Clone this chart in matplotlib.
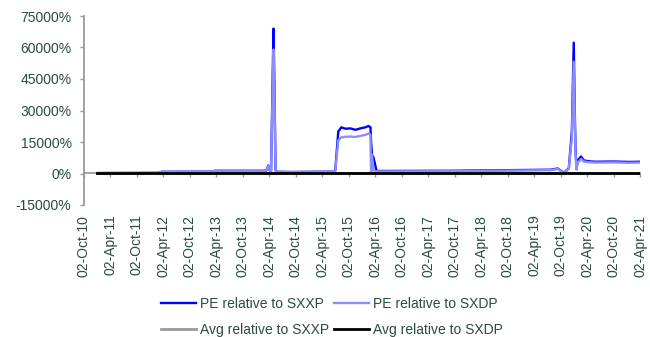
import numpy as np
import pandas as pd
import matplotlib
matplotlib.use("Agg")
import matplotlib.pyplot as plt
import matplotlib.dates as mdates

plt.rcParams["font.family"] = ["Liberation Sans", "DejaVu Sans"]

TEXT = "#2b4a40"
AXIS = "#9a9a9a"

# --- data (values in %) ---
pe_dates = ["2011-01-01", "2011-06-01", "2012-02-25", "2012-03-20", "2013-03-01",
            "2013-03-24", "2014-02-20", "2014-03-12", "2014-03-26", "2014-04-05",
            "2014-04-14", "2014-04-24", "2014-05-01", "2014-05-08", "2014-05-15",
            "2014-05-27", "2014-09-01", "2015-06-15", "2015-07-01", "2015-07-22",
            "2015-08-12", "2015-09-10", "2015-10-13", "2015-11-17", "2015-12-22",
            "2016-01-25", "2016-02-15", "2016-02-29", "2016-03-04", "2016-03-10",
            "2016-03-21", "2016-04-11", "2016-04-25", "2017-09-04", "2019-07-27",
            "2019-09-13", "2019-10-25", "2019-11-28", "2019-12-19", "2020-01-01",
            "2020-01-08", "2020-01-13", "2020-01-20", "2020-01-27", "2020-02-20",
            "2020-03-11", "2020-04-28", "2020-06-02", "2020-10-01", "2021-01-15",
            "2021-04-05"]

pe_sxxp = [200, 250, 300, 800, 900,
           1300, 1300, 1400, 3800, 1500,
           1000, 40000, 69000, 40000, 1500,
           800, 700, 900, 1500, 20000,
           22000, 21300, 21500, 20800, 21500,
           22000, 22600, 22000, 15400, 9000,
           7500, 1200, 1200, 1300, 1800,
           2400, 300, 2500, 20000, 62300,
           30000, 12000, 2500, 6000, 8100,
           6200, 5700, 5600, 5700, 5500,
           5600]

pe_sxdp = [200, 250, 300, 800, 900,
           1300, 1300, 1400, 3500, 1500,
           1000, 35000, 59000, 35000, 1500,
           800, 700, 900, 1400, 15800,
           17200, 17500, 17600, 17400, 17900,
           18400, 19100, 18500, 200, 9000,
           1500, 1000, 1000, 1100, 1600,
           2200, 200, 2300, 17000, 53200,
           26000, 10200, 1800, 5000, 7000,
           5700, 5300, 5200, 5300, 5100,
           5200]

avg_dates = ["2011-01-01", "2021-04-05"]
avg_sxxp = [400, 400]
avg_sxdp = [350, 350]

tick_dates = ["2010-10-02", "2011-04-02", "2011-10-02", "2012-04-02", "2012-10-02",
              "2013-04-02", "2013-10-02", "2014-04-02", "2014-10-02", "2015-04-02",
              "2015-10-02", "2016-04-02", "2016-10-02", "2017-04-02", "2017-10-02",
              "2018-04-02", "2018-10-02", "2019-04-02", "2019-10-02", "2020-04-02",
              "2020-10-02", "2021-04-02"]

y_ticks = [-15000, 0, 15000, 30000, 45000, 60000, 75000]


def to_num(dates):
    return mdates.date2num(pd.to_datetime(dates))


fig = plt.figure(figsize=(6.5, 3.37), dpi=100)
ax = fig.add_axes([84 / 650, 132 / 337, 556 / 650, 189 / 337])

h1, = ax.plot(to_num(pe_dates), pe_sxxp, color="#0000ff", lw=1.7, label="PE relative to SXXP")
h2, = ax.plot(to_num(pe_dates), pe_sxdp, color="#8c8cff", lw=1.7, label="PE relative to SXDP")
h3, = ax.plot(to_num(avg_dates), avg_sxxp, color="#999999", lw=2.0, label="Avg relative to SXXP")
h4, = ax.plot(to_num(avg_dates), avg_sxdp, color="#000000", lw=2.0, label="Avg relative to SXDP")

xt = to_num(tick_dates)
ax.set_xlim(xt[0], xt[-1])
ax.set_ylim(-15000, 75000)

# y axis
ax.set_yticks(y_ticks)
ax.set_yticklabels([f"{v}%" for v in y_ticks])
ax.tick_params(axis="y", direction="out", length=3, width=1, color=AXIS,
               labelsize=10, labelcolor=TEXT, pad=6)
for s in ["top", "right", "bottom"]:
    ax.spines[s].set_visible(False)
ax.spines["left"].set_color(AXIS)
ax.spines["left"].set_linewidth(1.3)

# x labels at the bottom, rotated
ax.set_xticks(xt)
ax.set_xticklabels([pd.Timestamp(d).strftime("%d-%b-%y") for d in tick_dates],
                   rotation=90)
ax.tick_params(axis="x", length=0, labelsize=10, labelcolor=TEXT, pad=7)

# zero line with tick marks
sec = ax.secondary_xaxis(15000 / 90000)
sec.set_xticks(xt)
sec.set_xticklabels([])
sec.tick_params(direction="out", length=3, width=1, color=AXIS)
sec.spines["bottom"].set_color(AXIS)
sec.spines["bottom"].set_linewidth(1.3)

# legend filled row by row: PE pair on top, Avg pair below
fig.legend([h1, h3, h2, h4], [h.get_label() for h in (h1, h3, h2, h4)],
           loc="upper center", bbox_to_anchor=(332 / 650, 1 - 287 / 337), ncol=2,
           frameon=False, fontsize=10, handlelength=2.5, handletextpad=0.3,
           columnspacing=0.4, labelspacing=0.85, labelcolor=TEXT,
           borderpad=0.2)

fig.savefig("out.png", dpi=100)
